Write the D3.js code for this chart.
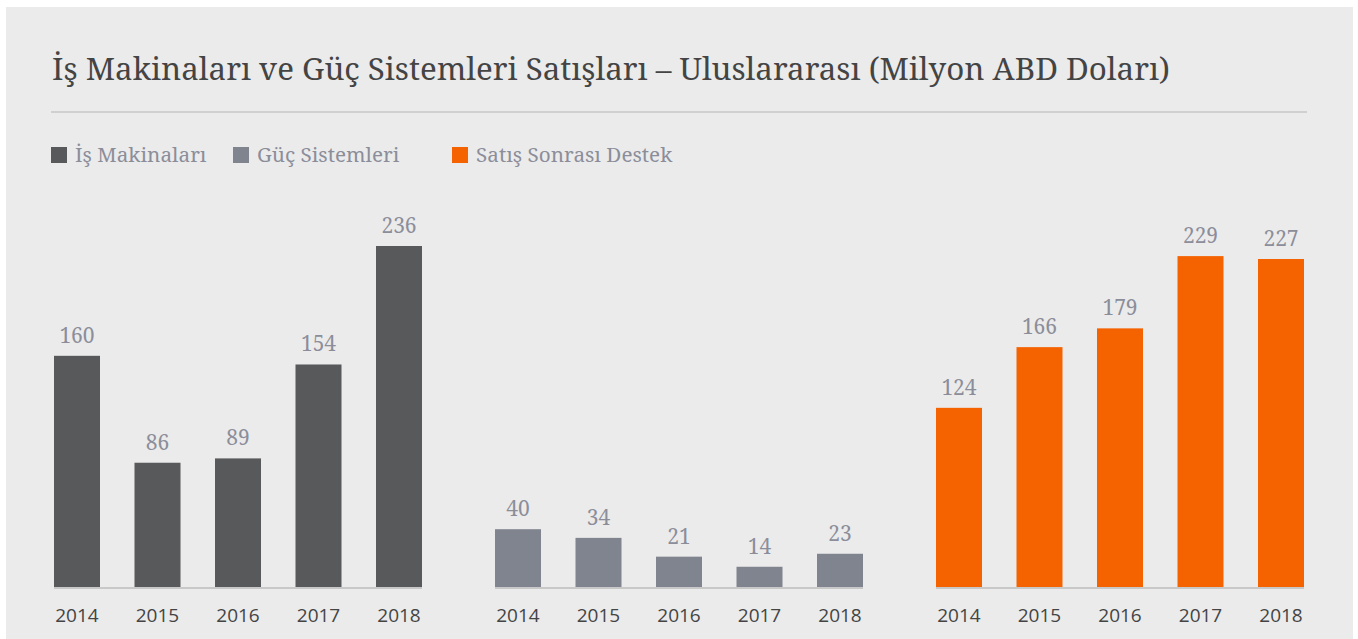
<!DOCTYPE html>
<html>
<head>
<meta charset="utf-8">
<script src="https://cdn.jsdelivr.net/npm/d3@7"></script>
<style>
  body { margin: 0; background: #fff; }
</style>
</head>
<body>
<svg width="1358" height="639"></svg>
<script>
// Veriler
const years = ["2014", "2015", "2016", "2017", "2018"];
const isMakinalari = [160, 86, 89, 154, 236];
const gucSistemleri = [40, 34, 21, 14, 23];
const satisSonrasi = [124, 166, 179, 229, 227];
const seriesNames = ["İş Makinaları", "Güç Sistemleri", "Satış Sonrası Destek"];
const seriesColors = ["#58595b", "#80848f", "#f56200"];
const title = "İş Makinaları ve Güç Sistemleri Satışları – Uluslararası (Milyon ABD Doları)";

const svg = d3.select("svg");
const serif = "'Noto Serif', 'DejaVu Serif', serif";
const sans = "'Open Sans', 'Noto Sans', sans-serif";

// arka plan paneli
svg.append("rect")
  .attr("x", 6).attr("y", 7)
  .attr("width", 1347).attr("height", 632)
  .attr("fill", "#ebebeb");

// başlık
svg.append("text")
  .attr("x", 52).attr("y", 80)
  .style("font-family", serif)
  .style("font-size", "31.3px")
  .attr("fill", "#444")
  .text(title);

// ayırıcı çizgi
svg.append("line")
  .attr("x1", 51).attr("x2", 1307)
  .attr("y1", 112).attr("y2", 112)
  .attr("stroke", "#d0d0d0")
  .attr("stroke-width", 2);

// legend
const legendX = [51, 233, 452];
seriesNames.forEach((name, i) => {
  svg.append("rect")
    .attr("x", legendX[i]).attr("y", 147)
    .attr("width", 16).attr("height", 16)
    .attr("fill", seriesColors[i]);
  svg.append("text")
    .attr("x", legendX[i] + 24).attr("y", 162)
    .style("font-family", serif)
    .style("font-size", "20.7px")
    .attr("fill", "#8b8e9a")
    .text(name);
});

// ortak y ölçeği
const y = d3.scaleLinear().domain([0, 236]).range([587, 246]);

const panels = [
  { values: isMakinalari, color: seriesColors[0], x0: 54 },
  { values: gucSistemleri, color: seriesColors[1], x0: 495 },
  { values: satisSonrasi, color: seriesColors[2], x0: 936 }
];

panels.forEach((p) => {
  const x = d3.scaleBand()
    .domain(years)
    .range([p.x0, p.x0 + 368])
    .paddingInner(0.4286)
    .paddingOuter(0);

  const g = svg.append("g");

  // eksen çizgisi
  g.append("rect")
    .attr("x", p.x0).attr("y", 587)
    .attr("width", 368).attr("height", 2)
    .attr("fill", "#c8c8c8");

  // barlar
  g.selectAll(".bar")
    .data(p.values)
    .enter()
    .append("rect")
    .attr("class", "bar")
    .attr("x", (d, i) => x(years[i]))
    .attr("y", (d) => y(d))
    .attr("width", x.bandwidth())
    .attr("height", (d) => y(0) - y(d))
    .attr("fill", p.color);

  // değer etiketleri
  g.selectAll(".val")
    .data(p.values)
    .enter()
    .append("text")
    .attr("class", "val")
    .attr("x", (d, i) => x(years[i]) + x.bandwidth() / 2)
    .attr("y", (d) => y(d) - 13)
    .attr("text-anchor", "middle")
    .style("font-family", serif)
    .style("font-size", "21px")
    .attr("fill", "#8b8e9a")
    .text((d) => d);

  // yıl etiketleri
  g.selectAll(".yr")
    .data(years)
    .enter()
    .append("text")
    .attr("class", "yr")
    .attr("x", (d) => x(d) + x.bandwidth() / 2)
    .attr("y", 622)
    .attr("text-anchor", "middle")
    .style("font-family", sans)
    .style("font-size", "19px")
    .attr("fill", "#444")
    .text((d) => d);
});
</script>
</body>
</html>
